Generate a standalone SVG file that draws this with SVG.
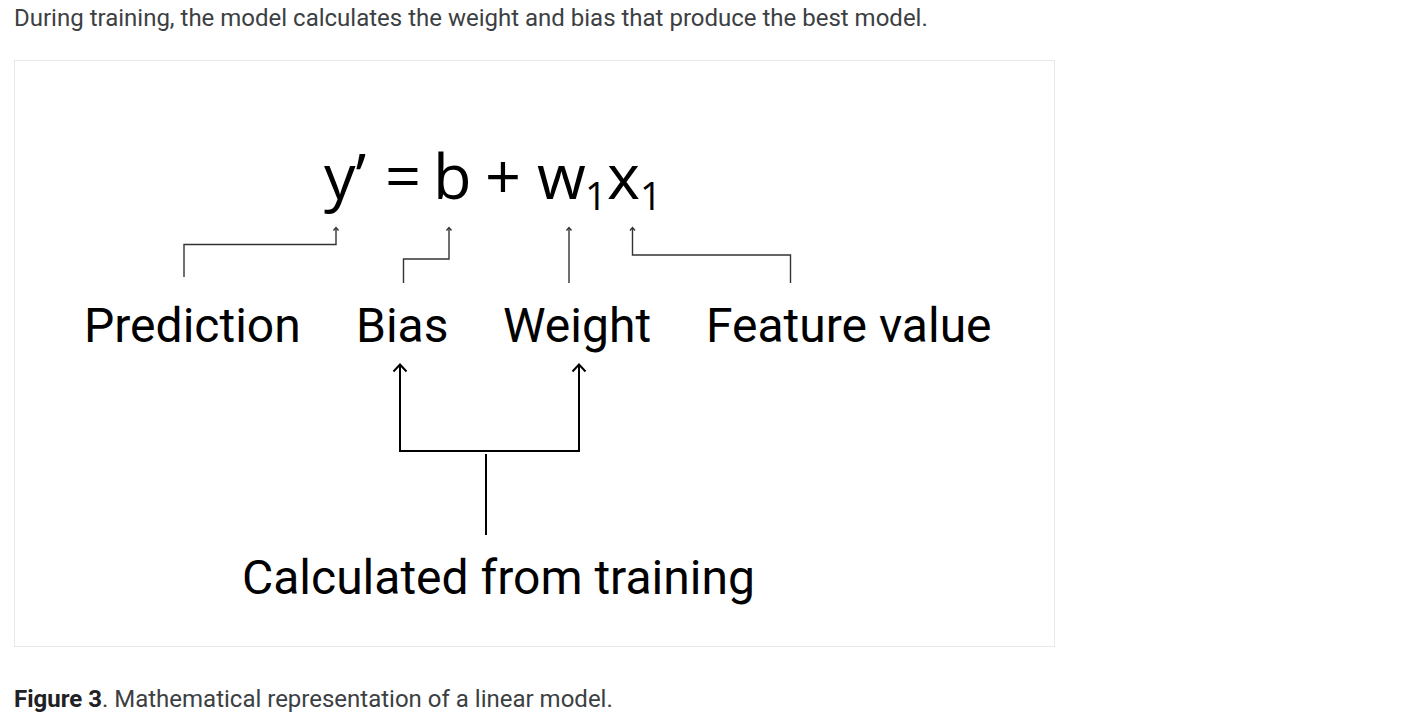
<svg xmlns="http://www.w3.org/2000/svg" width="1403" height="722" viewBox="0 0 1403 722">
<style>
.para{font-family:Roboto,"Liberation Sans",sans-serif;font-size:24px;fill:#3c4043}
.eq{font-family:"Open Sans","Noto Sans",sans-serif;font-size:63px;fill:#000}
.sub{font-size:38px}
.lbl{font-family:Roboto,"Liberation Sans",sans-serif;font-size:48px;fill:#000}
.thin{fill:none;stroke:#333;stroke-width:1.4}
.thick{fill:none;stroke:#000;stroke-width:2}
</style>
<rect width="1403" height="722" fill="#fff"/>
<text class="para" x="14" y="26">During training, the model calculates the weight and bias that produce the best model.</text>
<rect x="14.5" y="60.5" width="1040" height="586" fill="#fff" stroke="#e8e8e8" stroke-width="1"/>
<g id="equation">
<text class="eq" y="199"><tspan x="324">y’</tspan><tspan x="385">=</tspan><tspan x="433">b</tspan><tspan x="485">+</tspan><tspan x="537">w</tspan><tspan class="sub" x="585" y="210">1</tspan><tspan x="607" y="199">x</tspan><tspan class="sub" x="640" y="210">1</tspan></text>
</g>
<g id="prediction"><text class="lbl" x="84" y="342">Prediction</text></g>
<g id="bias"><text class="lbl" x="356" y="342">Bias</text></g>
<g id="weight"><text class="lbl" x="503" y="342">Weight</text></g>
<g id="feature"><text class="lbl" x="706" y="342">Feature value</text></g>
<g id="training"><text class="lbl" x="242" y="594">Calculated from training</text></g>
<g id="connectors">
<path class="thin" d="M184 277V244.5H336V228"/>
<path class="thin" d="M333.5 230.5L336 227.5L338.5 230.5"/>
<path class="thin" d="M403.5 283V259H449V228"/>
<path class="thin" d="M446.5 230.5L449 227.5L451.5 230.5"/>
<path class="thin" d="M569 283V228"/>
<path class="thin" d="M566.5 230.5L569 227.5L571.5 230.5"/>
<path class="thin" d="M790.5 283V255H632.5V228"/>
<path class="thin" d="M630 230.5L632.5 227.5L635 230.5"/>
<path class="thick" d="M400 365V451H579V365"/>
<path class="thick" d="M393.5 371.5L400 364.5L406.5 371.5"/>
<path class="thick" d="M572.5 371.5L579 364.5L585.5 371.5"/>
<path class="thick" d="M486 454V535"/>
</g>
<text class="para" x="14" y="707"><tspan font-weight="bold" fill="#202124">Figure 3</tspan>. Mathematical representation of a linear model.</text>
</svg>
